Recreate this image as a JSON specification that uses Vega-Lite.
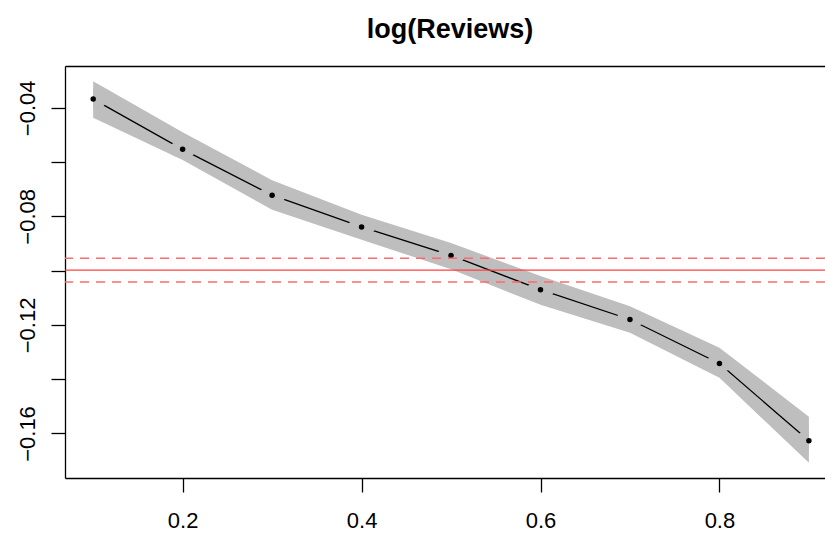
{
  "$schema": "https://vega.github.io/schema/vega-lite/v6.json",
  "width": 760,
  "height": 412,
  "padding": {"left": 65, "top": 66, "right": 0, "bottom": 58},
  "autosize": {"type": "none"},
  "background": "white",
  "config": {
    "view": {"stroke": null},
    "font": "Liberation Sans",
    "axis": {
      "labelFont": "Liberation Sans",
      "labelFontSize": 22,
      "labelColor": "black",
      "domainColor": "black",
      "domainWidth": 1.3,
      "tickColor": "black",
      "tickWidth": 1.3,
      "tickSize": 14,
      "grid": false,
      "title": null
    }
  },
  "title": {
    "text": "log(Reviews)",
    "font": "Liberation Sans",
    "fontSize": 27,
    "fontWeight": "bold",
    "color": "black",
    "anchor": "middle",
    "baseline": "alphabetic",
    "offset": 1,
    "dx": 5
  },
  "datasets": {
    "qr": [
      {"tau": 0.1, "coef": -0.0368, "lo": -0.0437, "hi": -0.0302},
      {"tau": 0.2, "coef": -0.0553, "lo": -0.0592, "hi": -0.0490},
      {"tau": 0.3, "coef": -0.0722, "lo": -0.0776, "hi": -0.0667},
      {"tau": 0.4, "coef": -0.0839, "lo": -0.0886, "hi": -0.0794},
      {"tau": 0.5, "coef": -0.0944, "lo": -0.0995, "hi": -0.0898},
      {"tau": 0.6, "coef": -0.1070, "lo": -0.1126, "hi": -0.1020},
      {"tau": 0.7, "coef": -0.1180, "lo": -0.1229, "hi": -0.1131},
      {"tau": 0.8, "coef": -0.1342, "lo": -0.1395, "hi": -0.1284},
      {"tau": 0.9, "coef": -0.1627, "lo": -0.1708, "hi": -0.1538}
    ],
    "ols": [
      {"est": -0.0998, "lo": -0.1042, "hi": -0.0954}
    ]
  },
  "resolve": {"axis": {"x": "independent"}},
  "layer": [
    {
      "data": {"name": "qr"},
      "mark": {"type": "area", "color": "#bebebe", "opacity": 1},
      "encoding": {
        "x": {
          "field": "tau", "type": "quantitative",
          "scale": {"domain": [0.0685, 0.918], "nice": false, "zero": false},
          "axis": {"orient": "bottom", "values": [0.2, 0.4, 0.6, 0.8], "format": ".1f", "labelPadding": 18, "labelFlush": false}
        },
        "y": {
          "field": "lo", "type": "quantitative",
          "scale": {"domain": [-0.1764, -0.0246], "nice": false, "zero": false},
          "axis": {
            "orient": "left",
            "values": [-0.16, -0.14, -0.12, -0.1, -0.08, -0.06, -0.04],
            "labelExpr": "abs(round(datum.value*100)) % 4 == 0 ? format(datum.value, '.2f') : ''",
            "labelAngle": -90,
            "labelAlign": "center",
            "labelBaseline": "bottom",
            "labelPadding": 12,
            "labelFlush": false
          }
        },
        "y2": {"field": "hi"}
      }
    },
    {
      "data": {"name": "qr"},
      "mark": {"type": "line", "color": "black", "strokeWidth": 1.3},
      "encoding": {
        "x": {"field": "tau", "type": "quantitative", "axis": null},
        "y": {"field": "coef", "type": "quantitative"}
      }
    },
    {
      "data": {"name": "qr"},
      "transform": [{"filter": "datum.tau > 0.15 && datum.tau < 0.85"}],
      "mark": {"type": "point", "filled": true, "color": "#bebebe", "opacity": 1, "size": 784, "shape": "M-1,0 A1,0.6 0 1,1 1,0 A1,0.6 0 1,1 -1,0 Z"},
      "encoding": {
        "x": {"field": "tau", "type": "quantitative", "axis": null},
        "y": {"field": "coef", "type": "quantitative"}
      }
    },
    {
      "data": {"name": "qr"},
      "transform": [{"filter": "datum.tau < 0.15"}],
      "mark": {"type": "point", "filled": true, "color": "#bebebe", "opacity": 1, "size": 784, "shape": "M0,-0.72 A1,0.72 0 0,1 0,0.72 Z"},
      "encoding": {
        "x": {"field": "tau", "type": "quantitative", "axis": null},
        "y": {"field": "coef", "type": "quantitative"}
      }
    },
    {
      "data": {"name": "qr"},
      "transform": [{"filter": "datum.tau > 0.85"}],
      "mark": {"type": "point", "filled": true, "color": "#bebebe", "opacity": 1, "size": 784, "shape": "M0,-0.72 A1,0.72 0 0,0 0,0.72 Z"},
      "encoding": {
        "x": {"field": "tau", "type": "quantitative", "axis": null},
        "y": {"field": "coef", "type": "quantitative"}
      }
    },
    {
      "data": {"name": "qr"},
      "mark": {"type": "circle", "color": "black", "opacity": 1, "size": 30},
      "encoding": {
        "x": {"field": "tau", "type": "quantitative", "axis": null},
        "y": {"field": "coef", "type": "quantitative"}
      }
    },
    {
      "data": {"name": "ols"},
      "mark": {"type": "rule", "color": "#ff4040", "strokeWidth": 1.3},
      "encoding": {"y": {"field": "est", "type": "quantitative"}}
    },
    {
      "data": {"name": "ols"},
      "mark": {"type": "rule", "color": "#ff6a6a", "strokeWidth": 1.5, "strokeDash": [9, 7]},
      "encoding": {"y": {"field": "lo", "type": "quantitative"}}
    },
    {
      "data": {"name": "ols"},
      "mark": {"type": "rule", "color": "#ff6a6a", "strokeWidth": 1.5, "strokeDash": [9, 7]},
      "encoding": {"y": {"field": "hi", "type": "quantitative"}}
    },
    {
      "data": {"name": "qr"},
      "mark": {"type": "point", "opacity": 0},
      "encoding": {
        "x": {"field": "tau", "type": "quantitative", "axis": {"orient": "top", "ticks": false, "labels": false, "domain": true}},
        "y": {"field": "coef", "type": "quantitative"}
      }
    }
  ]
}
